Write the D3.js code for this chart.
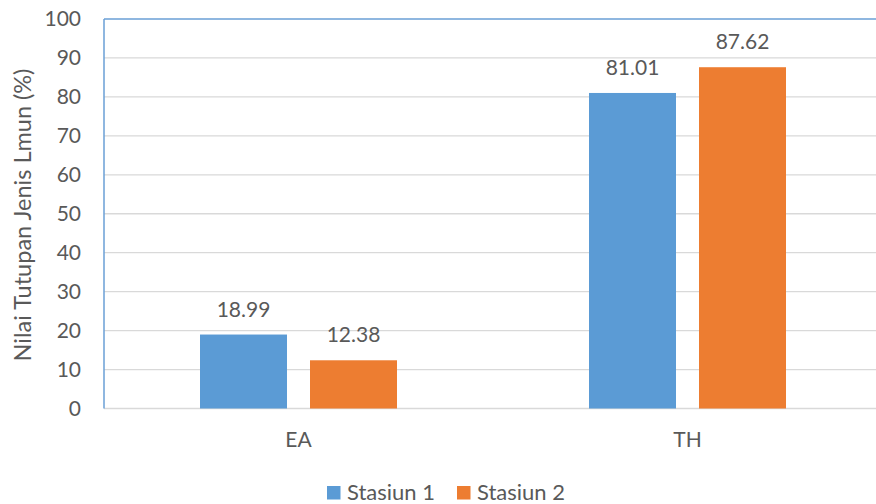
<!DOCTYPE html>
<html><head><meta charset="utf-8">
<script src="https://cdn.jsdelivr.net/npm/d3@7"></script>
<style>body{margin:0;background:#fff}svg{display:block}text{font-family:Lato,"Open Sans",sans-serif;fill:#595959}</style>
</head><body><svg id="c" width="876" height="504"></svg>
<script>
const categories = ["EA", "TH"];
const seriesNames = ["Stasiun 1", "Stasiun 2"];
const stasiun1 = [18.99, 81.01];
const stasiun2 = [12.38, 87.62];
const yTicks = [0, 10, 20, 30, 40, 50, 60, 70, 80, 90, 100];
const colors = ["#5B9BD5", "#ED7D31"];

(function () {
const svg = d3.select("#c");
const pL = 104, pR = 882, pT = 19, pB = 408.5;
const y = d3.scaleLinear().domain([0, 100]).range([pB, pT]);
const x = d3.scaleBand().domain(categories).range([pL, pR]).paddingInner(0).paddingOuter(0);
const bw = 87, gap = 23;
const series = [stasiun1, stasiun2];

svg.append("g").selectAll("line").data(yTicks.filter(d => d > 0 && d < 100)).join("line")
  .attr("x1", pL).attr("x2", 876).attr("y1", d => y(d)).attr("y2", d => y(d))
  .attr("stroke", "#D9D9D9").attr("stroke-width", 1.3);
svg.append("line").attr("x1", pL).attr("x2", 876).attr("y1", y(0)).attr("y2", y(0))
  .attr("stroke", "#D9D9D9").attr("stroke-width", 1.5);
svg.append("line").attr("x1", pL).attr("x2", 876).attr("y1", y(100)).attr("y2", y(100))
  .attr("stroke", "#6A9FD6").attr("stroke-width", 1.5);
svg.append("line").attr("x1", pL).attr("x2", pL).attr("y1", y(100)).attr("y2", y(0))
  .attr("stroke", "#6A9FD6").attr("stroke-width", 1.5);

svg.append("g").selectAll("text").data(yTicks).join("text")
  .attr("x", 81).attr("y", d => y(d)).attr("dy", "0.35em").attr("text-anchor", "end")
  .style("font-size", "21px").text(d => d);

categories.forEach((c, i) => {
  const cx = x(c) + x.bandwidth() / 2;
  series.forEach((s, j) => {
    const x0 = j === 0 ? cx - gap / 2 - bw : cx + gap / 2;
    svg.append("rect").attr("x", x0).attr("y", y(s[i])).attr("width", bw)
      .attr("height", y(0) - y(s[i])).attr("fill", colors[j]);
    svg.append("text").attr("x", x0 + bw / 2).attr("y", y(s[i]) - 18)
      .attr("text-anchor", "middle").style("font-size", "21px").text(s[i].toFixed(2));
  });
  svg.append("text").attr("x", cx).attr("y", 447).attr("text-anchor", "middle")
    .style("font-size", "21px").text(c);
});

svg.append("text").attr("transform", `translate(31,215) rotate(-90)`)
  .attr("text-anchor", "middle").style("font-size", "23.5px").text("Nilai Tutupan Jenis Lmun (%)");

const legX = [327, 457];
seriesNames.forEach((n, j) => {
  svg.append("rect").attr("x", legX[j]).attr("y", 486).attr("width", 13.5).attr("height", 13.5).attr("fill", colors[j]);
  svg.append("text").attr("x", legX[j] + 20).attr("y", 499.5).style("font-size", "22px").text(n);
});
})();
</script></body></html>
